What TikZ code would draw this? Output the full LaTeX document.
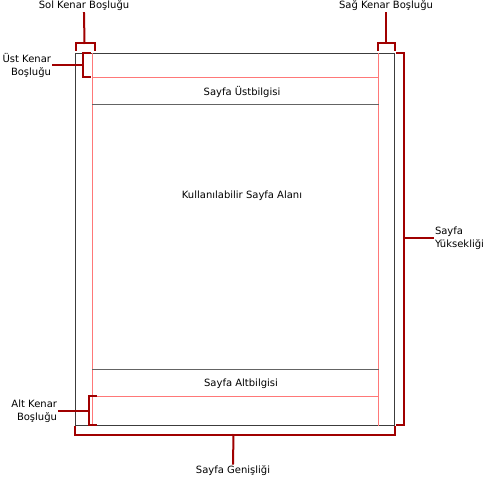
\documentclass[tikz,border=0pt]{standalone}
\usepackage{fontspec}
\setmainfont{DejaVu Sans}
\begin{document}
\begin{tikzpicture}[x=1pt,y=-1pt,line cap=rect]
				\definecolor{custcol_page}{RGB}{60, 60, 60}
				\definecolor{custcol_rule}{RGB}{100, 100, 100}
				\definecolor{custcol_margin}{RGB}{255, 120, 120}
				\definecolor{custcol_brace}{RGB}{160, 0, 0}
				\tikzset{lbl/.style={inner sep=2pt, outer sep=0, font=\fontsize{10pt}{13pt}\selectfont},
					brace/.style={line width=2.0pt, custcol_brace, line join=miter}}
				\useasboundingbox (0,0) rectangle (486,478);
				% page and margins
				\draw [line width=1.6pt, custcol_page ]  (75.5,53.5) rectangle (394.5,425.5) ;
				\draw [line width=1.0pt, custcol_margin ]  (92.5,53.5) -- (92.5,425.5) ;
				\draw [line width=1.0pt, custcol_margin ]  (378.5,53.5) -- (378.5,425.5) ;
				\draw [line width=1.0pt, custcol_margin ]  (92.5,77.5) -- (378.5,77.5) ;
				\draw [line width=1.0pt, custcol_margin ]  (92.5,396.5) -- (378.5,396.5) ;
				\draw [line width=1.0pt, custcol_rule ]  (92.5,104.5) -- (378.5,104.5) ;
				\draw [line width=1.0pt, custcol_rule ]  (92.5,369.5) -- (378.5,369.5) ;
				\node[lbl, anchor=base] (header) at  (242.0,95.5)  {Sayfa Üstbilgisi};
				\node[lbl, anchor=base] (body) at  (242.0,198.0)  {Kullanılabilir Sayfa Alanı};
				\node[lbl, anchor=base] (footer) at  (241.0,386.5)  {Sayfa Altbilgisi};
				% labels
				\node[lbl, anchor=base] (sol) at  (84.0,9.0)  {Sol Kenar Boşluğu};
				\node[lbl, anchor=base] (sag) at  (386.0,9.0)  {Sağ Kenar Boşluğu};
				\node[lbl, anchor=east, align=right] (ust) at  (53.0,65.0)  {Üst Kenar\\Boşluğu};
				\node[lbl, anchor=east, align=right] (alt) at  (59.0,411.0)  {Alt Kenar\\Boşluğu};
				\node[lbl, anchor=west, align=left] (yuk) at  (433.0,238.0)  {Sayfa\\Yüksekliği};
				\node[lbl, anchor=base] (gen) at  (233.0,473.5)  {Sayfa Genişliği};
				% brackets
				\draw [brace]  (75.5,50.0) -- (75.5,43.0) -- (94.5,43.0) -- (94.5,50.0) ;
				\draw [brace]  (84.5,43.0) -- (sol.south) ;
				\draw [brace]  (377.5,50.0) -- (377.5,43.0) -- (395.0,43.0) -- (395.0,50.0) ;
				\draw [brace]  (386.0,43.0) -- (sag.south) ;
				\draw [brace]  (90.0,53.0) -- (82.5,53.0) -- (82.5,77.0) -- (90.0,77.0) ;
				\draw [brace]  (82.5,65.0) -- (ust.east) ;
				\draw [brace]  (96.0,396.0) -- (88.5,396.0) -- (88.5,425.0) -- (96.0,425.0) ;
				\draw [brace]  (88.5,411.0) -- (alt.east) ;
				\draw [brace]  (397.0,53.0) -- (404.0,53.0) -- (404.0,425.0) -- (397.0,425.0) ;
				\draw [brace]  (404.0,238.0) -- (yuk.west) ;
				\draw [brace]  (74.5,427.0) -- (74.5,435.0) -- (394.5,435.0) -- (394.5,427.0) ;
				\draw [brace]  (233.5,435.0) -- (gen.north) ;
			\end{tikzpicture}
\end{document}
